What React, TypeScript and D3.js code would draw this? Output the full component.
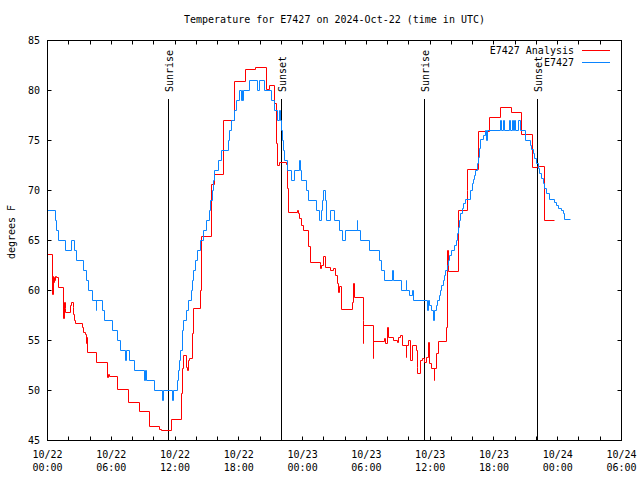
import React from "react";
import * as d3 from "d3";

// hours since 2024-10-22 00:00 UTC, temperature (F)
const analysisSeries: [number, number][] = [
  [0, 63.6], [0.5, 59.6], [0.54, 61.4], [0.6, 60.8], [0.64, 61.3], [0.7, 61.0], [0.76, 61.4], [0.8, 61.3],
  [1.02, 60.3], [1.55, 57.2], [1.6, 58.8], [1.65, 58.2], [1.7, 57.8], [2.21, 58.5], [2.27, 58.8], [2.4, 58.3],
  [2.45, 57.6], [2.55, 57.0], [2.65, 56.7], [3.25, 56.3], [3.4, 55.8], [3.6, 55.6], [3.65, 54.7], [3.7, 55.3],
  [3.75, 53.8], [4.63, 52.8], [5.63, 51.3], [5.7, 51.6], [5.8, 51.4], [6.57, 50.1], [7.6, 48.8], [8.61, 47.9],
  [9.58, 46.4], [10.58, 46.1], [10.7, 46.0], [11.68, 47.1], [12.62, 49.7], [12.68, 52.2], [12.78, 53.5],
  [13.1, 52.3], [13.19, 52.0], [13.25, 53.0], [13.34, 53.2], [13.66, 55.7], [13.72, 58.2], [14.41, 60.0],
  [14.45, 65.4], [15.45, 70.6], [15.7, 71.6], [16.56, 77.0], [17.6, 80.9], [18.65, 82.1], [19.59, 82.3],
  [20.56, 80.1], [20.87, 80.5], [21.4, 78.7], [21.5, 74.7], [21.66, 72.5], [21.87, 72.8], [22.5, 72.6],
  [22.56, 70.2], [22.65, 67.8], [23.5, 68.0], [23.66, 67.7], [23.75, 67.2], [23.91, 66.5], [24.06, 66.0],
  [24.6, 64.4], [24.7, 62.8], [25.64, 62.6], [25.7, 62.2], [25.8, 62.5], [25.95, 63.4], [26.2, 62.3],
  [26.64, 62.0], [26.9, 62.2], [27.05, 61.5], [27.26, 60.7], [27.36, 59.8], [27.45, 60.4], [27.68, 58.1],
  [28.71, 58.8], [28.83, 60.7], [28.9, 59.3], [29.71, 57.0], [29.75, 54.7], [29.77, 56.5], [30.65, 53.2],
  [30.7, 54.9], [31.66, 55.2], [31.84, 54.7], [31.97, 56.3], [32.06, 55.3], [32.53, 55.0], [32.91, 54.8],
  [33.0, 55.3], [33.23, 55.5], [33.41, 54.5], [33.73, 53.3], [33.79, 54.5], [33.98, 55.0], [34.17, 53.0],
  [34.36, 54.5], [34.67, 54.0], [34.79, 52.3], [34.83, 51.7], [35.11, 53.0], [35.3, 53.2], [35.51, 52.8],
  [35.67, 53.3], [35.89, 54.8], [35.98, 52.7], [36.14, 52.2], [36.39, 51.0], [36.45, 52.2], [36.55, 53.7],
  [36.76, 54.9], [37.55, 56.3], [37.65, 64.0], [37.7, 61.9], [38.65, 68.0], [39.5, 70.0], [39.55, 72.1],
  [40.55, 75.9], [41.55, 77.3], [42.65, 78.3], [43.67, 77.8], [44.62, 75.6], [45.6, 72.3], [46.08, 72.4],
  [46.72, 67.0], [47.65, 67.0],
];

const observedSeries: [number, number][] = [
  [0, 68], [0.71, 67], [0.8, 66], [1.05, 65], [1.65, 64], [2.25, 65], [2.55, 64], [2.7, 63], [3.37, 62],
  [3.65, 61], [3.9, 60], [4.19, 59], [4.6, 58], [4.65, 59], [5.15, 58], [5.35, 57], [6.15, 56], [6.6, 55],
  [6.85, 54], [7.38, 53], [7.45, 54], [7.67, 53], [8.23, 52], [9.17, 51], [9.25, 52], [9.3, 51], [10.11, 50],
  [10.8, 49], [10.9, 50], [11.75, 49], [11.9, 50], [12.2, 51], [12.3, 52], [12.4, 53], [12.55, 54], [12.72, 56],
  [12.8, 57], [13.03, 58], [13.31, 59], [13.5, 60], [13.62, 61], [13.72, 62], [13.88, 63], [14.15, 64],
  [14.44, 65], [14.72, 66], [14.98, 67], [15.2, 68], [15.38, 69], [15.5, 70], [15.6, 71], [15.75, 72],
  [16.13, 73], [16.39, 74], [17.01, 75], [17.1, 76], [17.33, 77], [17.57, 78], [17.8, 79], [18.04, 80],
  [18.27, 79], [18.32, 80], [18.37, 79], [18.42, 80], [19.05, 81], [19.77, 80], [19.92, 81], [20.46, 80],
  [21.1, 79], [21.35, 78], [21.6, 77], [21.85, 78], [21.9, 77], [22.0, 76], [22.12, 75], [22.2, 74],
  [22.3, 73], [22.56, 72], [22.97, 71], [23.28, 72], [23.69, 73], [23.78, 72], [23.91, 71], [24.32, 70],
  [24.54, 69], [25.26, 68], [25.57, 67], [25.82, 68], [25.9, 69], [26.01, 70], [26.17, 69], [26.26, 67],
  [26.58, 68], [26.98, 67], [27.5, 66], [27.77, 65], [28.08, 66], [29.14, 67], [29.2, 66], [29.49, 65],
  [30.27, 64], [31.28, 63], [31.44, 62], [31.75, 61], [32.47, 62], [32.55, 61], [33.32, 60], [33.73, 61],
  [33.8, 60], [34.1, 59.5], [34.36, 60], [34.41, 59], [35.77, 58], [35.86, 59], [35.98, 58.5], [36.08, 58],
  [36.36, 57], [36.45, 58], [36.6, 58.5], [36.71, 59], [36.85, 59.5], [36.95, 60], [37.1, 60.5], [37.23, 61],
  [37.35, 61.5], [37.46, 62], [37.6, 62.5], [37.7, 63], [37.85, 63.5], [38.02, 64], [38.3, 64.5], [38.5, 65],
  [38.6, 65.7], [38.65, 66.3], [38.74, 67], [38.9, 67.7], [39.02, 68.2], [39.12, 68.7], [39.28, 69.1],
  [39.84, 70], [39.95, 70.7], [40.06, 71.1], [40.17, 71.5], [40.28, 72], [40.42, 72.7], [40.56, 73.3],
  [40.68, 74.2], [40.78, 75.1], [41.0, 75.5], [41.16, 76], [41.31, 75], [41.41, 76], [42.57, 77], [42.75, 76],
  [42.88, 77], [43.04, 76], [43.51, 77], [43.6, 76], [43.73, 77], [43.82, 76], [43.91, 77], [44.04, 76],
  [44.29, 77], [44.54, 76], [45.01, 75], [45.4, 74.5], [45.58, 74.1], [45.7, 73.7], [45.86, 73.2],
  [46.02, 72.7], [46.17, 72.2], [46.33, 71.7], [46.49, 71.2], [46.64, 70.7], [46.8, 70.2], [46.96, 69.7],
  [47.21, 69.1], [47.74, 68.8], [47.9, 68.5], [48.05, 68.2], [48.37, 68], [48.52, 67.7], [48.68, 67.1],
  [49.22, 67.1],
];

const sunEventHours = [11.35, 22.0, 35.45, 46.06];
const sunEventLabels = ["Sunrise", "Sunset", "Sunrise", "Sunset"];
const yTicks = [45, 50, 55, 60, 65, 70, 75, 80, 85];
const seriesNames = ["E7427 Analysis", "E7427"];
const seriesColors = ["#ff0000", "#0a84ff"];
const title = "Temperature for E7427 on 2024-Oct-22 (time in UTC)";
const yLabel = "degrees F";

const T0 = Date.UTC(2024, 9, 22, 0, 0);
const toDate = (h: number) => new Date(T0 + h * 3600e3);

const FONT = "'DejaVu Sans Mono', monospace";
const snap = (v: number) => Math.floor(v) + 0.5;

export default function App() {
  const L = 47.5, R = 621.5, T = 40.5, B = 440.5;
  const x = d3.scaleUtc().domain([toDate(0), toDate(54)]).range([L, R]);
  const y = d3.scaleLinear().domain([45, 85]).range([B, T]);

  const line = d3
    .line<[number, number]>()
    .x((d) => snap(x(toDate(d[0]))))
    .y((d) => snap(y(d[1])))
    .curve(d3.curveStepAfter);

  const minorTicks = x.ticks(d3.utcHour.every(2)!);
  const majorTicks = x.ticks(d3.utcHour.every(6)!);
  const fmtDate = d3.utcFormat("%m/%d");
  const fmtTime = d3.utcFormat("%H:%M");

  return (
    <svg
      width={640}
      height={480}
      style={{ position: "absolute", left: 0, top: 0, background: "#fff" }}
      fontFamily={FONT}
      fontSize={10}
    >
      <rect x={0} y={0} width={640} height={480} fill="#fff" />
      <text x={(L + R) / 2} y={23} textAnchor="middle" fill="#000">
        {title}
      </text>
      {/* ticks */}
      {minorTicks.map((t, i) => {
        const xp = snap(x(t));
        return (
          <g key={"xt" + i} stroke="#000" strokeWidth={1}>
            <line x1={xp} x2={xp} y1={B} y2={B - 4} />
            <line x1={xp} x2={xp} y1={T} y2={T + 4} />
          </g>
        );
      })}
      {yTicks.map((v, i) => {
        const yp = snap(y(v));
        return (
          <g key={"yt" + i}>
            <line x1={L} x2={L + 4} y1={yp} y2={yp} stroke="#000" />
            <line x1={R} x2={R - 4} y1={yp} y2={yp} stroke="#000" />
            <text x={40} y={yp} dy="0.35em" textAnchor="end" fill="#000">
              {v}
            </text>
          </g>
        );
      })}
      {majorTicks.map((t, i) => (
        <g key={"xl" + i}>
          <text x={x(t)} y={458} textAnchor="middle" fill="#000">
            {fmtDate(t)}
          </text>
          <text x={x(t)} y={471} textAnchor="middle" fill="#000">
            {fmtTime(t)}
          </text>
        </g>
      ))}
      <text
        transform={`translate(15,232) rotate(-90)`}
        textAnchor="middle"
        fill="#000"
      >
        {yLabel}
      </text>
      {/* sun events */}
      {sunEventHours.map((h, i) => {
        const xp = snap(x(toDate(h)));
        return (
          <g key={"sun" + i}>
            <line x1={xp} x2={xp} y1={B} y2={99} stroke="#000" strokeWidth={1} />
            <text
              transform={`translate(${xp + 4},92) rotate(-90)`}
              textAnchor="start"
              fill="#000"
            >
              {sunEventLabels[i]}
            </text>
          </g>
        );
      })}
      {/* series */}
      <path d={line(analysisSeries) || ""} fill="none" stroke={seriesColors[0]} strokeWidth={1} />
      <path d={line(observedSeries) || ""} fill="none" stroke={seriesColors[1]} strokeWidth={1} />
      {/* frame */}
      <rect x={L} y={T} width={R - L} height={B - T} fill="none" stroke="#000" strokeWidth={1} />
      {/* legend */}
      {seriesNames.map((n, i) => (
        <g key={"lg" + i}>
          <text x={574} y={53.5 + i * 12} textAnchor="end" fill="#000">
            {n}
          </text>
          <line x1={582} x2={610} y1={50.5 + i * 12} y2={50.5 + i * 12} stroke={seriesColors[i]} strokeWidth={1} />
        </g>
      ))}
    </svg>
  );
}
